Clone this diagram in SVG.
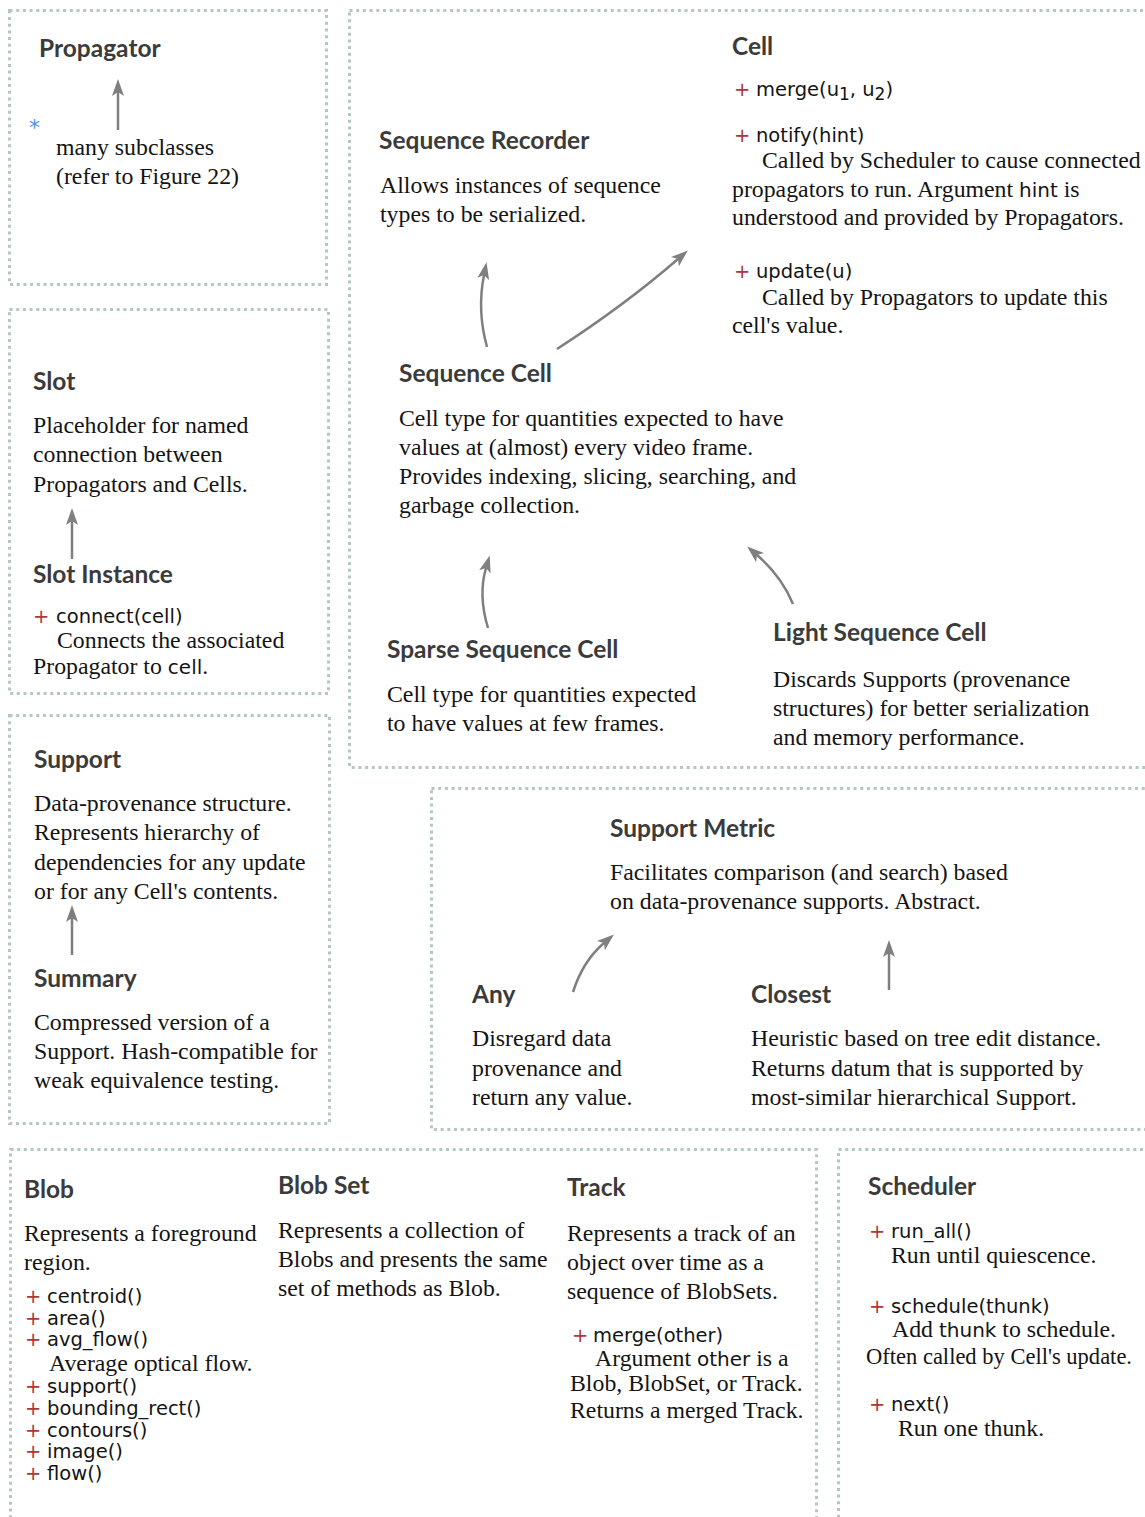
<svg xmlns="http://www.w3.org/2000/svg" width="1145" height="1517" viewBox="0 0 1145 1517">
  <style>
    .box { fill: none; stroke: #b6c6c1; stroke-width: 3; stroke-dasharray: 3 3.7; }
    .h { font-family: Lato, "Open Sans", sans-serif; font-weight: 700; font-size: 24.5px; fill: #3b3b3b; }
    .t { font-family: "Liberation Serif", "Times New Roman", serif; font-size: 23.8px; fill: #141414; }
    .m { font-family: "DejaVu Sans", Verdana, sans-serif; font-size: 19.5px; fill: #141414; }
    .tm { font-family: "DejaVu Sans", Verdana, sans-serif; font-size: 20px; }
    .p { font-family: "DejaVu Sans", Verdana, sans-serif; font-size: 19.5px; fill: #b0363a; }
    .star { font-family: "DejaVu Sans", sans-serif; font-size: 22px; fill: #4a90e2; }
    .arr { fill: none; stroke: #7f7f7f; stroke-width: 2.5; marker-end: url(#head); }
  </style>
  <defs>
    <marker id="head" markerUnits="userSpaceOnUse" markerWidth="18" markerHeight="14" viewBox="0 0 18 14" refX="4" refY="7" orient="auto">
      <path d="M0,1 L17,7 L0,13 L4,7 z" fill="#7f7f7f"/>
    </marker>
  </defs>

  <rect width="1145" height="1517" fill="#ffffff"/>

  <!-- frames -->
  <g id="frames">
    <rect class="box" x="9.5" y="10.5" width="317" height="274"/>
    <rect class="box" x="349.5" y="10.5" width="810" height="757"/>
    <rect class="box" x="9.5" y="309.5" width="319" height="384"/>
    <rect class="box" x="9.5" y="715.5" width="320" height="408"/>
    <rect class="box" x="431.5" y="788.5" width="730" height="341"/>
    <rect class="box" x="10.5" y="1149.5" width="806" height="380"/>
    <rect class="box" x="838.5" y="1149.5" width="320" height="380"/>
  </g>

  <!-- Propagator -->
  <g id="propagator">
    <text class="h" x="39" y="57">Propagator</text>
    <text class="star" x="29" y="135">*</text>
    <text class="t" x="56" y="155">many subclasses</text>
    <text class="t" x="56" y="184">(refer to Figure 22)</text>
  </g>

  <!-- Cell -->
  <g id="cell">
    <text class="h" x="732" y="55">Cell</text>
    <text class="p" x="734" y="96">+</text>
    <text class="m" x="756" y="96">merge(u<tspan font-size="17" dy="4">1</tspan><tspan dy="-4">, u</tspan><tspan font-size="17" dy="4">2</tspan><tspan dy="-4">)</tspan></text>
    <text class="p" x="734" y="142">+</text>
    <text class="m" x="756" y="142">notify(hint)</text>
    <text class="t" x="762" y="168">Called by Scheduler to cause connected</text>
    <text class="t" x="732" y="197">propagators to run. Argument <tspan class="tm">hint</tspan> is</text>
    <text class="t" x="732" y="225">understood and provided by Propagators.</text>
    <text class="p" x="734" y="278">+</text>
    <text class="m" x="756" y="278">update(u)</text>
    <text class="t" x="762" y="305">Called by Propagators to update this</text>
    <text class="t" x="732" y="333">cell's value.</text>
  </g>

  <!-- Sequence Recorder -->
  <g id="sequence-recorder">
    <text class="h" x="379" y="149">Sequence Recorder</text>
    <text class="t" x="380" y="193">Allows instances of sequence</text>
    <text class="t" x="380" y="222">types to be serialized.</text>
  </g>

  <!-- Sequence Cell -->
  <g id="sequence-cell">
    <text class="h" x="399" y="382">Sequence Cell</text>
    <text class="t" x="399" y="426">Cell type for quantities expected to have</text>
    <text class="t" x="399" y="455">values at (almost) every video frame.</text>
    <text class="t" x="399" y="484">Provides indexing, slicing, searching, and</text>
    <text class="t" x="399" y="513">garbage collection.</text>
  </g>

  <!-- Sparse Sequence Cell -->
  <g id="sparse-sequence-cell">
    <text class="h" x="387" y="658">Sparse Sequence Cell</text>
    <text class="t" x="387" y="702">Cell type for quantities expected</text>
    <text class="t" x="387" y="731">to have values at few frames.</text>
  </g>

  <!-- Light Sequence Cell -->
  <g id="light-sequence-cell">
    <text class="h" x="773" y="641">Light Sequence Cell</text>
    <text class="t" x="773" y="687">Discards Supports (provenance</text>
    <text class="t" x="773" y="716">structures) for better serialization</text>
    <text class="t" x="773" y="745">and memory performance.</text>
  </g>

  <!-- Slot -->
  <g id="slot">
    <text class="h" x="33" y="390">Slot</text>
    <text class="t" x="33" y="433">Placeholder for named</text>
    <text class="t" x="33" y="462">connection between</text>
    <text class="t" x="33" y="492">Propagators and Cells.</text>
  </g>

  <!-- Slot Instance -->
  <g id="slot-instance">
    <text class="h" x="33" y="583">Slot Instance</text>
    <text class="p" x="33" y="623">+</text>
    <text class="m" x="56" y="623">connect(cell)</text>
    <text class="t" x="57" y="648">Connects the associated</text>
    <text class="t" x="33" y="674">Propagator to <tspan class="tm">cell</tspan>.</text>
  </g>

  <!-- Support -->
  <g id="support">
    <text class="h" x="34" y="768">Support</text>
    <text class="t" x="34" y="811">Data-provenance structure.</text>
    <text class="t" x="34" y="840">Represents hierarchy of</text>
    <text class="t" x="34" y="870">dependencies for any update</text>
    <text class="t" x="34" y="899">or for any Cell's contents.</text>
  </g>

  <!-- Summary -->
  <g id="summary">
    <text class="h" x="34" y="987">Summary</text>
    <text class="t" x="34" y="1030">Compressed version of a</text>
    <text class="t" x="34" y="1059">Support. Hash-compatible for</text>
    <text class="t" x="34" y="1088">weak equivalence testing.</text>
  </g>

  <!-- Support Metric -->
  <g id="support-metric">
    <text class="h" x="610" y="837">Support Metric</text>
    <text class="t" x="610" y="880">Facilitates comparison (and search) based</text>
    <text class="t" x="610" y="909">on data-provenance supports. Abstract.</text>
  </g>

  <!-- Any -->
  <g id="any">
    <text class="h" x="472" y="1003">Any</text>
    <text class="t" x="472" y="1046">Disregard data</text>
    <text class="t" x="472" y="1076">provenance and</text>
    <text class="t" x="472" y="1105">return any value.</text>
  </g>

  <!-- Closest -->
  <g id="closest">
    <text class="h" x="751" y="1003">Closest</text>
    <text class="t" x="751" y="1046">Heuristic based on tree edit distance.</text>
    <text class="t" x="751" y="1076">Returns datum that is supported by</text>
    <text class="t" x="751" y="1105">most-similar hierarchical Support.</text>
  </g>

  <!-- Blob -->
  <g id="blob">
    <text class="h" x="24" y="1198">Blob</text>
    <text class="t" x="24" y="1241">Represents a foreground</text>
    <text class="t" x="24" y="1270">region.</text>
    <text class="p" x="25" y="1303">+</text><text class="m" x="47" y="1303">centroid()</text>
    <text class="p" x="25" y="1325">+</text><text class="m" x="47" y="1325">area()</text>
    <text class="p" x="25" y="1346">+</text><text class="m" x="47" y="1346">avg_flow()</text>
    <text class="t" x="49" y="1371">Average optical flow.</text>
    <text class="p" x="25" y="1393">+</text><text class="m" x="47" y="1393">support()</text>
    <text class="p" x="25" y="1415">+</text><text class="m" x="47" y="1415">bounding_rect()</text>
    <text class="p" x="25" y="1437">+</text><text class="m" x="47" y="1437">contours()</text>
    <text class="p" x="25" y="1458">+</text><text class="m" x="47" y="1458">image()</text>
    <text class="p" x="25" y="1480">+</text><text class="m" x="47" y="1480">flow()</text>
  </g>

  <!-- Blob Set -->
  <g id="blob-set">
    <text class="h" x="278" y="1194">Blob Set</text>
    <text class="t" x="278" y="1238">Represents a collection of</text>
    <text class="t" x="278" y="1267">Blobs and presents the same</text>
    <text class="t" x="278" y="1296">set of methods as Blob.</text>
  </g>

  <!-- Track -->
  <g id="track">
    <text class="h" x="567" y="1196">Track</text>
    <text class="t" x="567" y="1241">Represents a track of an</text>
    <text class="t" x="567" y="1270">object over time as a</text>
    <text class="t" x="567" y="1299">sequence of BlobSets.</text>
    <text class="p" x="572" y="1342">+</text>
    <text class="m" x="593" y="1342">merge(other)</text>
    <text class="t" x="595" y="1366">Argument <tspan class="tm">other</tspan> is a</text>
    <text class="t" x="570" y="1391">Blob, BlobSet, or Track.</text>
    <text class="t" x="570" y="1418">Returns a merged Track.</text>
  </g>

  <!-- Scheduler -->
  <g id="scheduler">
    <text class="h" x="868" y="1195">Scheduler</text>
    <text class="p" x="869" y="1238">+</text>
    <text class="m" x="891" y="1238">run_all()</text>
    <text class="t" x="891" y="1263">Run until quiescence.</text>
    <text class="p" x="869" y="1313">+</text>
    <text class="m" x="891" y="1313">schedule(thunk)</text>
    <text class="t" x="892" y="1337">Add <tspan class="tm">thunk</tspan> to schedule.</text>
    <text class="t" x="866" y="1364" textLength="266" lengthAdjust="spacingAndGlyphs">Often called by Cell's update.</text>
    <text class="p" x="869" y="1411">+</text>
    <text class="m" x="891" y="1411">next()</text>
    <text class="t" x="898" y="1436">Run one thunk.</text>
  </g>

  <!-- inheritance connectors -->
  <g id="connectors">
    <path class="arr" d="M118,130 L118,92"/>
    <path class="arr" d="M72,559 L72,521"/>
    <path class="arr" d="M72,955 L72,918"/>
    <path class="arr" d="M487,347 C479,318 480,295 484,275"/>
    <path class="arr" d="M557,349 Q625,305 678,259"/>
    <path class="arr" d="M488,628 C481,605 481,585 486,568"/>
    <path class="arr" d="M793,604 C785,585 772,568 757,555"/>
    <path class="arr" d="M573,992 C580,970 590,955 604,943"/>
    <path class="arr" d="M889,990 L889,953"/>
  </g>
</svg>
